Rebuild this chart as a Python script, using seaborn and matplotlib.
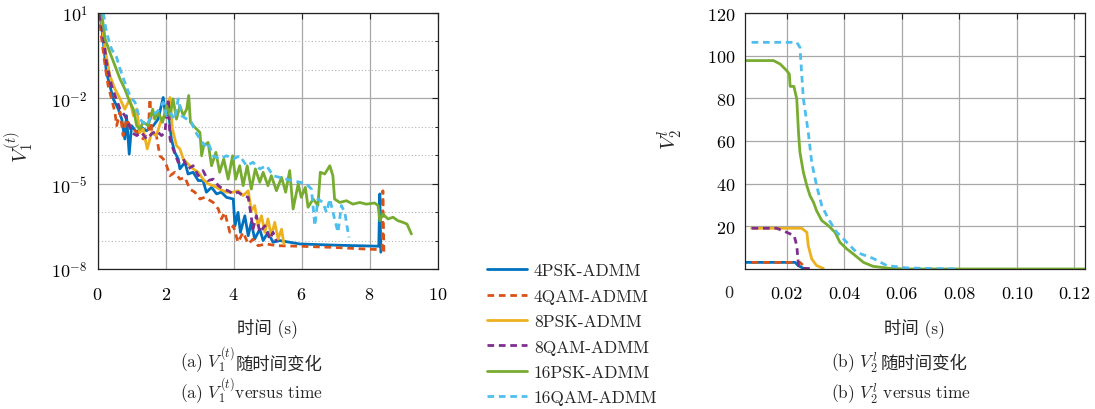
import numpy as np
import matplotlib
matplotlib.use('Agg')
import matplotlib.pyplot as plt
import matplotlib.ticker as mticker
import matplotlib.transforms as mtransforms
import seaborn as sns

# ── Données : V1 (log10) ─────────────────────────────────────────────
t_4psk = [0.07, 0.17, 0.26, 0.36, 0.46, 0.61, 0.71, 0.80, 0.85, 0.93, 1.00, 1.15, 1.29, 1.44,
          1.64, 1.78, 1.93, 2.00, 2.08, 2.17, 2.27, 2.37, 2.42, 2.57, 2.66, 2.81, 2.96, 3.10,
          3.20, 3.35, 3.50, 3.64, 3.79, 3.99, 4.04, 4.13, 4.20, 4.33, 4.43, 4.52, 4.62, 4.77,
          4.87, 5.01, 5.16, 5.36, 5.55, 5.95, 6.92, 8.27, 8.30, 8.33]
lg_4psk = [1.0, -0.03, -1.09, -1.55, -2.02, -2.38, -2.73, -3.43, -2.61, -3.96, -2.96, -3.2, -3.02, -3.14,
           -2.96, -2.73, -1.97, -2.61, -2.38, -3.43, -3.9, -4.13, -4.48, -4.25, -4.66, -4.6, -4.89, -4.89,
           -5.3, -5.13, -5.36, -5.3, -5.48, -5.54, -6.48, -6.01, -6.71, -6.13, -6.83, -6.36, -6.95, -6.6,
           -7.0, -6.71, -7.06, -7.0, -7.04, -7.12, -7.16, -7.2, -5.36, -7.41]

t_4qam = [0.04, 0.12, 0.22, 0.31, 0.41, 0.51, 0.56, 0.66, 0.75, 0.85, 1.00, 1.19, 1.34, 1.49,
          1.54, 1.59, 1.73, 1.83, 1.93, 2.03, 2.13, 2.27, 2.42, 2.57, 2.71, 2.86, 3.01, 3.15,
          3.40, 3.55, 3.64, 3.74, 3.89, 3.99, 4.13, 4.28, 4.43, 4.57, 4.72, 4.97, 5.26, 5.95,
          6.92, 7.90, 8.37, 8.39, 8.42]
lg_4qam = [1.0, 0.09, -0.85, -1.55, -2.02, -2.49, -2.96, -2.49, -3.31, -2.73, -3.08, -3.2, -3.43, -3.14,
           -2.02, -3.2, -3.31, -4.02, -4.13, -4.37, -4.72, -4.6, -4.84, -4.78, -5.19, -5.3, -5.54, -5.48,
           -5.66, -5.89, -6.24, -6.01, -6.71, -6.48, -7.06, -6.71, -7.12, -6.95, -7.18, -7.12, -7.18, -7.2,
           -7.24, -7.3, -7.32, -5.25, -7.41]

t_8psk = [0.09, 0.22, 0.36, 0.51, 0.66, 0.80, 0.95, 1.05, 1.15, 1.24, 1.34, 1.46, 1.59, 1.73,
          1.88, 1.98, 2.13, 2.20, 2.32, 2.42, 2.52, 2.66, 2.81, 2.96, 3.10, 3.25, 3.40, 3.59,
          3.79, 3.99, 4.13, 4.28, 4.43, 4.52, 4.62, 4.72, 4.82, 4.92, 5.01, 5.11, 5.21, 5.31,
          5.41, 5.48]
lg_8psk = [1.0, -0.27, -1.2, -1.67, -2.02, -2.38, -2.02, -2.61, -2.38, -3.2, -3.08, -3.78, -3.2, -3.31,
           -2.73, -2.61, -1.97, -3.08, -3.66, -3.78, -4.13, -4.31, -4.48, -4.6, -4.84, -5.01, -5.07, -5.19,
           -5.3, -5.3, -5.25, -5.42, -5.25, -5.95, -5.77, -6.48, -6.13, -6.71, -6.24, -6.83, -6.36, -6.95,
           -6.6, -7.12]

t_8qam = [0.07, 0.19, 0.26, 0.41, 0.51, 0.66, 0.80, 0.90, 1.00, 1.15, 1.29, 1.44, 1.59, 1.73,
          1.88, 1.98, 2.08, 2.13, 2.22, 2.37, 2.52, 2.66, 2.81, 2.96, 3.10, 3.25, 3.40, 3.55,
          3.69, 3.84, 3.99, 4.13, 4.28, 4.43, 4.50, 4.57, 4.67, 4.77, 4.92, 5.06, 5.16, 5.26]
lg_8qam = [0.96, -0.03, -0.73, -1.55, -1.9, -2.38, -2.61, -2.84, -3.2, -3.31, -3.2, -3.43, -3.25, -3.14,
           -3.31, -3.2, -2.02, -3.43, -3.78, -4.25, -4.13, -4.48, -4.37, -4.72, -4.54, -4.89, -4.84, -5.07,
           -5.19, -5.25, -5.36, -5.3, -5.42, -5.48, -6.01, -6.6, -6.13, -6.71, -6.48, -6.95, -6.71, -7.04]

t_16psk = [0.12, 0.22, 0.36, 0.51, 0.66, 0.80, 0.95, 1.05, 1.15, 1.24, 1.34, 1.49, 1.62, 1.68,
           1.78, 1.91, 2.03, 2.13, 2.22, 2.32, 2.42, 2.52, 2.62, 2.68, 2.73, 2.86, 3.01, 3.06,
           3.12, 3.25, 3.35, 3.48, 3.59, 3.71, 3.84, 3.97, 4.06, 4.18, 4.28, 4.40, 4.52, 4.64,
           4.77, 4.87, 5.01, 5.11, 5.26, 5.41, 5.53, 5.65, 5.75, 5.90, 5.99, 6.11, 6.19, 6.34,
           6.48, 6.55, 6.68, 6.83, 6.92, 6.97, 7.12, 7.32, 7.51, 7.71, 7.90, 8.15, 8.25, 8.30,
           8.39, 8.54, 8.69, 8.83, 8.98, 9.10, 9.23]
lg_16psk = [1.0, 0.09, -0.38, -0.85, -1.32, -1.67, -2.14, -2.38, -2.96, -3.08, -2.84, -2.96, -2.38, -2.73,
            -2.49, -2.84, -2.26, -2.61, -2.02, -2.73, -2.26, -2.61, -2.38, -1.9, -2.84, -3.02, -3.2, -4.02,
            -3.66, -3.55, -4.37, -3.9, -4.6, -4.13, -4.84, -4.02, -4.84, -4.37, -5.07, -4.37, -5.19, -4.48,
            -4.95, -4.6, -5.07, -4.72, -5.25, -4.78, -5.3, -4.54, -5.89, -5.01, -5.48, -5.13, -5.83, -5.54,
            -5.77, -4.6, -4.66, -4.37, -4.72, -5.54, -5.66, -5.6, -5.72, -5.66, -5.72, -5.68, -5.77, -6.3,
            -6.07, -6.24, -6.18, -6.3, -6.36, -6.42, -6.77]

t_16qam = [0.17, 0.26, 0.41, 0.56, 0.66, 0.80, 0.95, 1.10, 1.24, 1.44, 1.59, 1.73, 1.83, 1.93,
           2.03, 2.13, 2.27, 2.37, 2.47, 2.62, 2.76, 2.86, 3.01, 3.15, 3.25, 3.40, 3.59, 3.79,
           3.99, 4.18, 4.38, 4.57, 4.77, 4.97, 5.16, 5.36, 5.55, 5.75, 5.95, 6.14, 6.29, 6.39,
           6.48, 6.63, 6.73, 6.83, 6.97, 7.07, 7.17, 7.27, 7.39]
lg_16qam = [1.0, 0.32, -0.27, -0.56, -0.97, -1.44, -1.91, -2.14, -2.73, -2.96, -2.61, -2.49, -2.38, -2.14,
            -2.61, -2.49, -2.73, -2.02, -2.61, -2.73, -2.84, -3.14, -3.43, -3.66, -3.55, -4.02, -4.13, -4.02,
            -4.13, -4.02, -4.37, -4.25, -4.48, -4.37, -4.72, -4.78, -4.84, -4.9, -4.95, -5.01, -5.19, -6.48,
            -5.54, -5.66, -6.01, -5.54, -6.24, -6.71, -5.77, -6.01, -6.89]

# ── Données : V2 ─────────────────────────────────────────────────────
s_4psk = [0.0055, 0.0229, 0.0240, 0.0258]
v_4psk = [3.1, 3.1, 1.6, 0.3]
s_4qam = [0.0078, 0.0246, 0.0258, 0.0264]
v_4qam = [3.1, 3.1, 1.6, 0.3]
s_8psk = [0.0078, 0.0252, 0.0270, 0.0275, 0.0287, 0.0304, 0.0327]
v_8psk = [19.1, 19.1, 17.2, 10.9, 4.7, 1.6, 0.3]
s_8qam = [0.0078, 0.0165, 0.0200, 0.0226, 0.0235, 0.0241, 0.0258, 0.0293]
v_8qam = [19.1, 19.1, 17.2, 15.6, 10.9, 1.6, 0.3, 0.2]
s_16psk = [0.0055, 0.0154, 0.0177, 0.0200, 0.0209, 0.0212, 0.0225, 0.0235, 0.0241, 0.0246,
           0.0258, 0.0270, 0.0281, 0.0293, 0.0304, 0.0322, 0.0345, 0.0368, 0.0385, 0.0409,
           0.0432, 0.0467, 0.0500, 0.0559, 0.0617, 0.1237]
v_16psk = [97.7, 97.7, 96.1, 93.0, 91.4, 85.6, 85.6, 79.7, 64.0, 54.7,
           45.3, 39.0, 34.4, 31.3, 27.3, 22.7, 20.3, 17.2, 12.5, 9.4,
           7.0, 3.1, 1.25, 0.3, 0.0, 0.0]
s_16qam = [0.0078, 0.0235, 0.0246, 0.0258, 0.0275, 0.0287, 0.0304, 0.0322, 0.0345, 0.0374,
           0.0409, 0.0443, 0.0500, 0.0548, 0.0617, 0.0790]
v_16qam = [106.25, 106.25, 103.9, 79.7, 64.0, 50.0, 39.0, 29.7, 23.4, 17.2,
           12.5, 7.8, 5.0, 1.6, 0.5, 0.0]

labels = ['4PSK-ADMM', '4QAM-ADMM', '8PSK-ADMM', '8QAM-ADMM', '16PSK-ADMM', '16QAM-ADMM']
colors = ['#0072BD', '#D95319', '#EDB120', '#7E2F8E', '#77AC30', '#4DBEEE']
dashed = [False, True, False, True, False, True]

series1 = [(t_4psk, lg_4psk), (t_4qam, lg_4qam), (t_8psk, lg_8psk),
           (t_8qam, lg_8qam), (t_16psk, lg_16psk), (t_16qam, lg_16qam)]
series2 = [(s_4psk, v_4psk), (s_4qam, v_4qam), (s_8psk, v_8psk),
           (s_8qam, v_8qam), (s_16psk, v_16psk), (s_16qam, v_16qam)]

# ── Style ────────────────────────────────────────────────────────────
sns.set_theme(style='white')
plt.rcParams['font.family'] = ['cmr10', 'Noto Sans CJK SC']
plt.rcParams['mathtext.fontset'] = 'cm'
plt.rcParams['axes.formatter.use_mathtext'] = True
plt.rcParams['axes.unicode_minus'] = False
plt.rcParams['font.size'] = 12.5

W, H = 1095, 410
LW = 2.0
DASH = (0, (2.4, 1.7))
fig = plt.figure(figsize=(W / 100, H / 100), dpi=100)
ax1 = fig.add_axes([97.6 / W, 1 - 270 / H, 340 / W, 256 / H])
ax2 = fig.add_axes([745 / W, 1 - 270 / H, 340 / W, 256 / H])

for ax in (ax1, ax2):
    for sp in ax.spines.values():
        sp.set_color('#222222')
        sp.set_linewidth(0.9)
    ax.tick_params(which='both', direction='in', top=True, right=True,
                   colors='#222222', labelcolor='black', labelsize=13)
    ax.tick_params(which='major', length=4, width=0.8)
    ax.tick_params(which='minor', length=2.5, width=0.7)
    ax.tick_params(axis='x', pad=12)
    ax.tick_params(axis='y', pad=7)

# ── (a) V1 en fonction du temps ──────────────────────────────────────
for (t, lg), lab, c, d in zip(series1, labels, colors, dashed):
    sns.lineplot(x=t, y=10.0 ** np.array(lg), ax=ax1, color=c, lw=LW, label=lab,
                 estimator=None, sort=False, legend=False,
                 linestyle=DASH if d else '-')

ax1.set_yscale('log')
ax1.set_xlim(0, 10)
ax1.set_ylim(1e-8, 10)
ax1.set_xticks([0, 2, 4, 6, 8, 10])
ax1.yaxis.set_major_locator(mticker.FixedLocator([1e1, 1e-2, 1e-5, 1e-8]))
ax1.yaxis.set_major_formatter(mticker.FixedFormatter(['$10^{1}$', '$10^{-2}$', '$10^{-5}$', '$10^{-8}$']))
ax1.yaxis.set_minor_locator(mticker.FixedLocator([1e0, 1e-1, 1e-3, 1e-4, 1e-6, 1e-7]))
ax1.yaxis.set_minor_formatter(mticker.NullFormatter())
ax1.grid(True, which='major', color='#a8a8a8', lw=0.9, ls='-')
ax1.grid(True, which='minor', axis='y', color='#b4b4b4', lw=0.8, ls=(0, (1, 2)))
ax1.set_axisbelow(True)
ax1.set_xlabel('时间 (s)', fontsize=12.5)
ax1.set_ylabel('$V_1^{(t)}$', fontsize=15)
ax1.xaxis.set_label_coords(0.5, -0.19)
ax1.yaxis.set_label_coords(-0.18, 0.48)

# ── (b) V2 en fonction du temps ──────────────────────────────────────
for (s, v), lab, c, d in zip(series2, labels, colors, dashed):
    sns.lineplot(x=s, y=v, ax=ax2, color=c, lw=LW, label=lab,
                 estimator=None, sort=False, legend=False,
                 linestyle=DASH if d else '-')

ax2.set_xlim(0.0055, 0.1237)
ax2.set_ylim(0, 120)
ax2.set_xticks([0.02, 0.04, 0.06, 0.08, 0.10, 0.12])
ax2.xaxis.set_major_formatter(mticker.FormatStrFormatter('%.2f'))
ax2.set_yticks([20, 40, 60, 80, 100, 120])
ax2.grid(True, which='major', color='#a8a8a8', lw=0.9, ls='-')
ax2.set_axisbelow(True)
ax2.set_xlabel('时间 (s)', fontsize=12.5)
ax2.set_ylabel('$V_2^l$', fontsize=15)
ax2.xaxis.set_label_coords(0.5, -0.19)
ax2.yaxis.set_label_coords(-0.176, 0.51)
# étiquette "0" hors de l'axe (comme pgfplots)
ax2.text(0.0, -0.09, '0', transform=mtransforms.blended_transform_factory(ax2.transData, ax2.transAxes),
         ha='center', va='center', clip_on=False, fontsize=13)

# ── Légende commune ──────────────────────────────────────────────────
handles, labs = ax1.get_legend_handles_labels()
fig.legend(handles, labs, loc='upper left', bbox_to_anchor=(487 / W, 1 - 264 / H),
           frameon=False, handlelength=2.3, handletextpad=0.4, labelspacing=0.58,
           borderpad=0, borderaxespad=0, fontsize=12.5)

# ── Légendes des sous-figures ────────────────────────────────────────
cap_a = fig.text(180 / W, 1 - 368 / H, '(a) $V_1^{(t)}$', ha='left', va='baseline')
ax1.annotate('随时间变化', xy=(1, 0), xycoords=cap_a, xytext=(1, 2), textcoords='offset points',
             ha='left', va='bottom', annotation_clip=False)
fig.text(180 / W, 1 - 399 / H, '(a) $V_1^{(t)}$versus time', ha='left', va='baseline')

cap_b = fig.text(831 / W, 1 - 368 / H, '(b) $V_2^l$ ', ha='left', va='baseline')
ax2.annotate('随时间变化', xy=(1, 0), xycoords=cap_b, xytext=(1, 2), textcoords='offset points',
             ha='left', va='bottom', annotation_clip=False)
fig.text(831 / W, 1 - 399 / H, '(b) $V_2^l$ versus time', ha='left', va='baseline')

plt.savefig('out.png', dpi=100)
